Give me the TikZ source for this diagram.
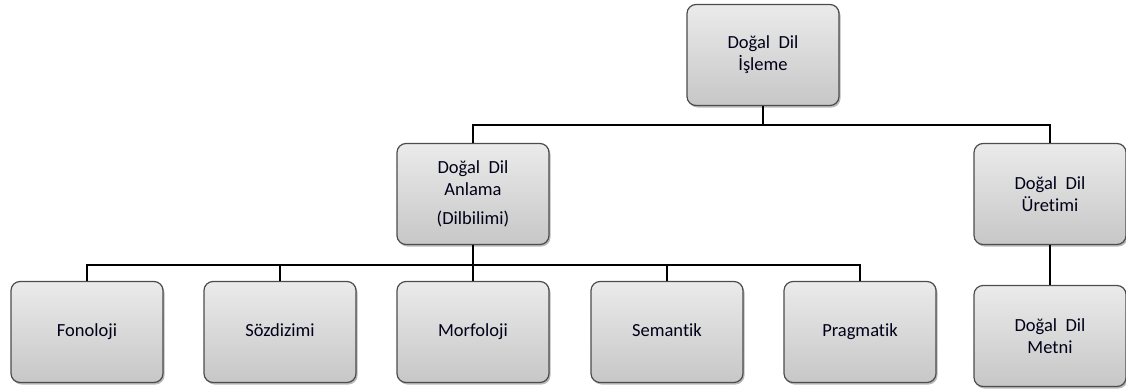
\documentclass[tikz,border=0pt]{standalone}
\usepackage{fontspec}
\setmainfont{Carlito}[Ligatures={NoCommon}]
\usetikzlibrary{shadows}
\begin{document}
\begin{tikzpicture}[x=1pt,y=-1pt,
  box/.style={draw=black!70, line width=1.2pt, rounded corners=9pt,
    top color=black!8, bottom color=black!22,
    minimum width=152pt, minimum height=101pt, align=center,
    font=\fontsize{18.5}{22}\selectfont, text=black!90!blue,
    drop shadow={shadow xshift=1.5pt, shadow yshift=-2pt, fill=black!45, opacity=0.6}},
  onebox/.style={box, text height=13pt, text depth=4pt},
  conn/.style={draw=black, line width=1.2pt}]
\useasboundingbox (0,0) rectangle (1126,391);
\node[box] (root) at (763,55) {Doğal\ \ Dil\\İşleme};
\node[box] (anl) at (473,194) {Doğal\ \ Dil\\Anlama\\[7pt](Dilbilimi)};
\node[box] (ure) at (1050,194) {Doğal\ \ Dil\\Üretimi};
\node[onebox] (fon) at (87,332) {Fonoloji};
\node[onebox] (soz) at (280,332) {Sözdizimi};
\node[onebox] (mor) at (473,332) {Morfoloji};
\node[onebox] (sem) at (667,332) {Semantik};
\node[onebox] (pra) at (860,332) {Pragmatik};
\node[box] (met) at (1050,336) {Doğal\ \ Dil\\Metni};
\coordinate (r1) at (763,125);
\coordinate (r2) at (763,265);
\draw[conn] (root.south) -- (r1);
\draw[conn] (anl.north) |- (r1);
\draw[conn] (ure.north) |- (r1);
\foreach \n in {fon,soz,mor,sem,pra}{
  \draw[conn] (\n.north) |- (anl.south |- r2);
}
\draw[conn] (anl.south) -- (anl.south |- r2);
\draw[conn] (ure.south) -- (met.north);
\end{tikzpicture}
\end{document}
